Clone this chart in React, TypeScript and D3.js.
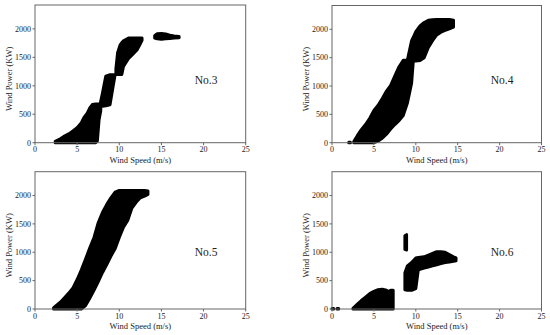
import React from "react";
import * as d3 from "d3";

// wind speed ticks / power ticks
const speedTicks = [0, 5, 10, 15, 20, 25];
const powerTicks = [0, 500, 1000, 1500, 2000];

// each blob: [speed, lowest power, highest power]
const no3Low = [[2.4, 0, 25], [3.0, 0, 70], [3.5, 0, 115], [4.0, 0, 155], [4.5, 0, 205], [5.0, 0, 265], [5.5, 0, 350], [5.8, 0, 440], [6.2, 0, 520], [6.5, 0, 610], [6.8, 0, 670], [7.2, 0, 680], [7.4, 30, 680], [7.6, 400, 680], [7.8, 560, 680]];
const no3Mid = [[7.7, 640, 660], [8.0, 640, 870], [8.4, 650, 1170], [8.9, 665, 1195], [9.2, 930, 1195], [9.5, 1190, 1195]];
const no3High = [[9.6, 1200, 1300], [9.8, 1200, 1580], [10.1, 1200, 1720], [10.3, 1200, 1760], [10.5, 1340, 1790], [11.1, 1480, 1840], [11.5, 1540, 1840], [12.1, 1630, 1840], [12.5, 1740, 1840], [12.7, 1800, 1840]];
const no3Top = [[14.2, 1840, 1880], [14.5, 1825, 1915], [15.0, 1820, 1920], [15.5, 1825, 1910], [16.0, 1830, 1890], [16.5, 1840, 1875], [17.1, 1845, 1865]];

const no4Main = [[2.6, 0, 20], [3.0, 0, 120], [3.5, 0, 230], [4.0, 0, 320], [4.5, 0, 430], [5.0, 0, 570], [5.5, 30, 660], [6.0, 80, 780], [6.5, 150, 910], [7.0, 240, 1010], [7.5, 320, 1180], [8.0, 390, 1340], [8.5, 480, 1455], [9.0, 700, 1460], [9.5, 1050, 1800], [9.7, 1440, 1860], [10.0, 1440, 1960], [10.5, 1450, 2060], [11.0, 1500, 2120], [11.5, 1680, 2160], [12.0, 1800, 2170], [12.5, 1900, 2175], [13.0, 1950, 2175], [13.5, 1980, 2175], [14.0, 2010, 2175], [14.5, 2040, 2160]];
const no4Stray = [[2.0, 0, 10], [2.2, 0, 10]];

const no5Main = [[2.2, 0, 20], [2.5, 0, 60], [3.0, 0, 120], [3.5, 0, 200], [4.0, 0, 280], [4.5, 0, 370], [5.0, 0, 520], [5.5, 0, 690], [6.0, 60, 880], [6.5, 190, 1080], [7.0, 330, 1260], [7.5, 480, 1520], [8.0, 640, 1700], [8.5, 780, 1840], [9.0, 930, 1960], [9.5, 1060, 2060], [10.0, 1260, 2090], [10.5, 1440, 2090], [11.0, 1560, 2090], [11.5, 1780, 2090], [12.0, 1880, 2090], [12.5, 1960, 2090], [13.0, 1990, 2090], [13.4, 2020, 2080]];

const no6Stray = [[0.0, 0, 10], [0.2, 0, 10]];
const no6Stray2 = [[0.6, 0, 10], [0.8, 0, 10]];
const no6Low = [[2.5, 0, 10], [3.0, 0, 80], [3.5, 0, 150], [4.0, 0, 210], [4.5, 0, 270], [5.0, 0, 310], [5.5, 0, 340], [6.0, 0, 350], [6.5, 0, 330], [6.7, 0, 310], [7.0, 0, 330], [7.3, 0, 330]];
const no6Spike = [[8.7, 1050, 1290], [8.9, 1040, 1310]];
const no6High = [[8.7, 340, 640], [9.0, 330, 760], [9.5, 330, 820], [10.0, 360, 900], [10.3, 690, 910], [11.0, 720, 920], [11.5, 740, 950], [12.0, 760, 980], [12.5, 780, 1010], [13.0, 800, 1010], [13.5, 820, 1000], [14.0, 830, 960], [14.5, 840, 920], [14.8, 850, 900]];

const panelNames = ["No.3", "No.4", "No.5", "No.6"];
const nameSpeed = [20.3, 20.3, 20.3, 20.3];
const namePower = [1100, 1100, 1000, 1000];
const panelBlobs = [
  [no3Low, no3Mid, no3High, no3Top],
  [no4Main, no4Stray],
  [no5Main],
  [no6Stray, no6Stray2, no6Low, no6Spike, no6High],
];

const W = 550, H = 335;
const layout = [
  { left: 35, right: 245.7, top: 5, bottom: 142.7 },
  { left: 332, right: 541.5, top: 5.5, bottom: 142.7 },
  { left: 35, right: 245.7, top: 171.7, bottom: 309 },
  { left: 332, right: 541.5, top: 171.7, bottom: 309 },
];

const FONT = "'Liberation Serif', 'Times New Roman', serif";
const AXIS = "#666";

function Panel({ idx }: { idx: number }) {
  const { left, right, top, bottom } = layout[idx];
  const x = d3.scaleLinear().domain([0, 25]).range([left, right]);
  const y = d3.scaleLinear().domain([0, 2420]).range([bottom, top]);
  const area = d3.area<number[]>()
    .x(d => x(d[0]))
    .y0(d => y(d[1]))
    .y1(d => y(d[2]));

  return (
    <g>
      {panelBlobs[idx].map((b, i) => (
        <path key={i} d={area(b) || ""} fill="#000" stroke="#000" strokeWidth={3} strokeLinejoin="round" />
      ))}
      <rect x={left} y={top} width={right - left} height={bottom - top} fill="none" stroke={AXIS} strokeWidth={1} />
      {speedTicks.map(t => (
        <g key={"x" + t}>
          <line x1={x(t)} x2={x(t)} y1={bottom} y2={bottom + 2.5} stroke={AXIS} />
          <text x={x(t)} y={bottom + 9.5} textAnchor="middle" fontSize={8} fontFamily={FONT} fill="#222">{t}</text>
        </g>
      ))}
      {powerTicks.map(t => (
        <g key={"y" + t}>
          <line x1={left - 2.5} x2={left} y1={y(t)} y2={y(t)} stroke={AXIS} />
          <text x={left - 4} y={y(t) + 2.8} textAnchor="end" fontSize={8} fontFamily={FONT} fill="#222">{t}</text>
        </g>
      ))}
      <text x={(left + right) / 2} y={bottom + 20} textAnchor="middle" fontSize={8.5} fontFamily={FONT} fill="#222">Wind Speed (m/s)</text>
      <text transform={`translate(${left - 23},${(top + bottom) / 2 + 5}) rotate(-90)`} textAnchor="middle" fontSize={8.5} fontFamily={FONT} fill="#222">Wind Power (KW)</text>
      <text x={x(nameSpeed[idx])} y={y(namePower[idx]) + 4} textAnchor="middle" fontSize={11.5} fontFamily={FONT} fill="#222">{panelNames[idx]}</text>
    </g>
  );
}

export default function App() {
  return (
    <svg width={W} height={H} style={{ position: "absolute", left: 0, top: 0, background: "#fff" }}>
      <rect width={W} height={H} fill="#fff" />
      {layout.map((_, i) => <Panel key={i} idx={i} />)}
    </svg>
  );
}
